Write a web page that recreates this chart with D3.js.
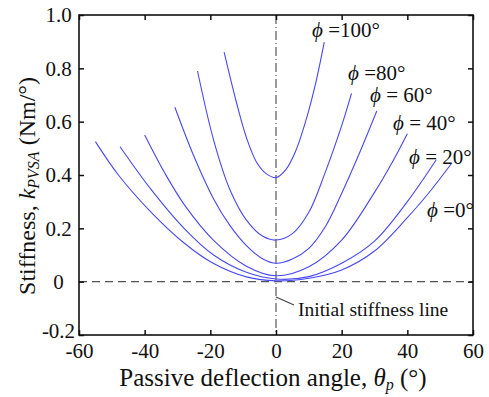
<!DOCTYPE html>
<html>
<head>
<meta charset="utf-8">
<script src="https://cdn.jsdelivr.net/npm/d3@7"></script>
<style>
  body { margin: 0; background: #fff; }
  text { font-family: "Liberation Serif", "Times New Roman", serif; fill: #111; }
</style>
</head>
<body>
<div id="chart"></div>
<script>
// stiffness curves, one pair of arrays per phi
const theta0 = [-55, -48, -38, -28, -19, -9, 0, 10, 20, 30, 40, 47, 53.5];
const k0 = [0.525, 0.4, 0.26, 0.145, 0.068, 0.018, 0.003, 0.013, 0.044, 0.115, 0.24, 0.34, 0.444];

const theta20 = [-47.5, -38, -28, -19, -9, 0, 10, 20, 30, 40, 48.8];
const k20 = [0.506, 0.345, 0.2, 0.1, 0.035, 0.01, 0.019, 0.069, 0.152, 0.3, 0.457];

const theta40 = [-40, -34, -28, -19, -9, 0, 10, 20, 30, 35.5, 40];
const k40 = [0.55, 0.41, 0.29, 0.155, 0.058, 0.022, 0.056, 0.156, 0.335, 0.45, 0.555];

const theta60 = [-30.8, -25, -19, -14, -9, -4, 0, 5, 10, 15, 20, 25, 30.7];
const k60 = [0.654, 0.47, 0.31, 0.21, 0.135, 0.085, 0.069, 0.085, 0.125, 0.206, 0.331, 0.47, 0.64];

const theta80 = [-23.9, -19, -14, -9, -4, 0, 5, 10, 15, 20, 23];
const k80 = [0.79, 0.531, 0.344, 0.231, 0.17, 0.156, 0.18, 0.26, 0.41, 0.585, 0.706];

const theta100 = [-15.8, -12, -9, -6, -3, 0, 3, 6, 9, 12, 14.7];
const k100 = [0.861, 0.67, 0.54, 0.45, 0.405, 0.39, 0.42, 0.49, 0.6, 0.74, 0.898];

const xTicks = [-60, -40, -20, 0, 20, 40, 60];
const yTicks = [-0.2, 0, 0.2, 0.4, 0.6, 0.8, 1.0];

const width = 489, height = 397;
const margin = {top: 15, right: 16, bottom: 62, left: 79};

const svg = d3.select("#chart").append("svg")
    .attr("width", width)
    .attr("height", height);

const x = d3.scaleLinear().domain([-60, 60]).range([margin.left, width - margin.right]);
const y = d3.scaleLinear().domain([-0.2, 1.0]).range([height - margin.bottom, margin.top]);

// reference lines
svg.append("line")
    .attr("x1", x(-60)).attr("x2", x(60))
    .attr("y1", y(0)).attr("y2", y(0))
    .attr("stroke", "#555").attr("stroke-width", 1.4)
    .attr("stroke-dasharray", "8,5");

svg.append("line")
    .attr("x1", x(0)).attr("x2", x(0))
    .attr("y1", y(1.0)).attr("y2", y(-0.2))
    .attr("stroke", "#666").attr("stroke-width", 1.3)
    .attr("stroke-dasharray", "9,3,1,3");

// curves
const series = [
    [theta0, k0], [theta20, k20], [theta40, k40],
    [theta60, k60], [theta80, k80], [theta100, k100]
];

const line = d3.line()
    .x(d => x(d[0]))
    .y(d => y(d[1]))
    .curve(d3.curveCatmullRom.alpha(0.5));

series.forEach(function(s) {
    const pts = s[0].map((t, i) => [t, s[1][i]]);
    svg.append("path")
        .datum(pts)
        .attr("d", line)
        .attr("fill", "none")
        .attr("stroke", "#4848f0")
        .attr("stroke-width", 1.1);
});

// axes, ticks pointing inward on all four sides
const fs = "21px";
svg.append("g")
    .attr("transform", `translate(0, ${y(-0.2)})`)
    .call(d3.axisBottom(x).tickValues(xTicks).tickSizeInner(-5).tickSizeOuter(0).tickPadding(8).tickFormat(d => String(d)))
    .call(g => g.selectAll("text").style("font-size", fs).attr("dy", "0.72em"));

svg.append("g")
    .attr("transform", `translate(0, ${y(1.0)})`)
    .call(d3.axisTop(x).tickValues(xTicks).tickSizeInner(-5).tickSizeOuter(0).tickFormat(""));

svg.append("g")
    .attr("transform", `translate(${x(-60)}, 0)`)
    .call(d3.axisLeft(y).tickValues(yTicks).tickSizeInner(-5).tickSizeOuter(0).tickPadding(8)
        .tickFormat(d => d === 0 ? "0" : d.toFixed(1)))
    .call(g => g.selectAll("text").style("font-size", fs)
        .attr("text-anchor", "middle").attr("x", 58.5 - x(-60))
        .attr("dy", d => d === -0.2 ? "0.1em" : "0.32em"));

svg.append("g")
    .attr("transform", `translate(${x(60)}, 0)`)
    .call(d3.axisRight(y).tickValues(yTicks).tickSizeInner(-5).tickSizeOuter(0).tickFormat(""));

svg.selectAll(".domain").remove();
svg.selectAll(".tick line").attr("stroke", "#111").attr("stroke-width", 1.5);
svg.selectAll(".tick text").style("font-family", "'Liberation Serif', serif").attr("fill", "#111");

// frame
svg.append("rect")
    .attr("x", x(-60)).attr("y", y(1.0))
    .attr("width", x(60) - x(-60)).attr("height", y(-0.2) - y(1.0))
    .attr("fill", "none").attr("stroke", "#111").attr("stroke-width", 1.6);

// curve labels
const labels = [
    ["100°", " =", 312, 37],
    ["80°", " =", 348, 80],
    ["60°", " = ", 370, 102],
    ["40°", " = ", 393, 130],
    ["20°", " = ", 409, 164],
    ["0°", " =", 427, 217]
];
labels.forEach(function(l) {
    const t = svg.append("text")
        .attr("x", l[2]).attr("y", l[3])
        .style("font-size", "21px")
        .attr("xml:space", "preserve");
    t.append("tspan").style("font-style", "italic").text("ϕ");
    t.append("tspan").text(l[1] + l[0]);
});

// initial stiffness pointer
svg.append("line")
    .attr("x1", x(0)).attr("y1", 297)
    .attr("x2", 294).attr("y2", 305)
    .attr("stroke", "#444").attr("stroke-width", 1.2);
svg.append("text")
    .attr("x", 298).attr("y", 316)
    .style("font-size", "19.5px")
    .text("Initial stiffness line");

// axis titles
const xt = svg.append("text")
    .attr("x", 273).attr("y", 386)
    .attr("text-anchor", "middle")
    .style("font-size", "25px");
xt.append("tspan").text("Passive deflection angle, ");
xt.append("tspan").style("font-style", "italic").text("θ");
xt.append("tspan").style("font-style", "italic").style("font-size", "16px").attr("dy", 4).text("p");
xt.append("tspan").attr("dy", -4).text(" (°)");

const yt = svg.append("text")
    .attr("transform", `translate(35, 186) rotate(-90)`)
    .attr("text-anchor", "middle")
    .style("font-size", "24px");
yt.append("tspan").text("Stiffness, ");
yt.append("tspan").style("font-style", "italic").text("k");
yt.append("tspan").style("font-style", "italic").style("font-size", "16px").attr("dy", 4).text("PVSA");
yt.append("tspan").attr("dy", -4).text(" (Nm/°)");
</script>
</body>
</html>
